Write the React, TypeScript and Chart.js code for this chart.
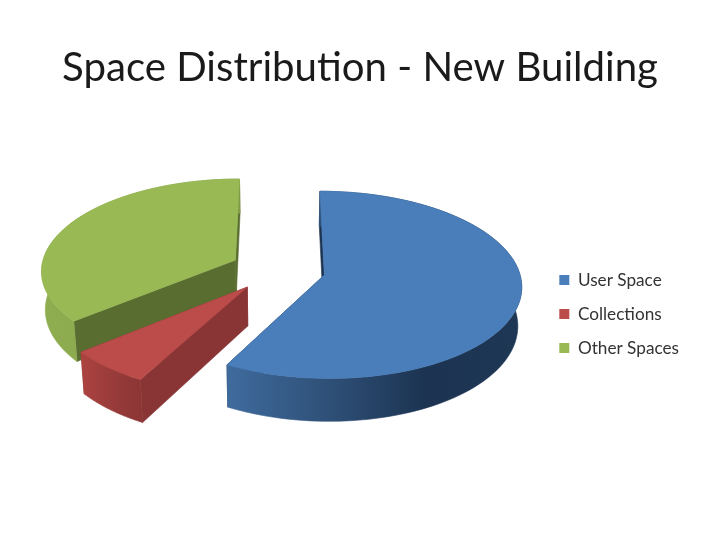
import React, { useEffect, useRef } from "react";
import { Chart, registerables } from "chart.js";

Chart.register(...registerables);

const categories = ["User Space", "Collections", "Other Spaces"];
const shares = [57.85, 6.15, 36];
const topColors = ["#4a7ebb", "#bb4c49", "#98b954"];
const cutColors = ["#1d3553", "#8a3535", "#5a6d31"];
const wallStops = [
  ["#3f6b9d", "#2f5179", "#1c3452", "#1e3755"],
  ["#ac4341", "#a03e3c", "#943a39", "#8c3635"],
  ["#8fae50", "#8aa84d", "#84a24a", "#7f9b47"],
];
const drawOrder = [2, 1, 0];

const CENTER_X = 278;
const CENTER_Y = 269.5;
const RADIUS = 194.5;
const TILT = 0.47;
const VIEW = 1860;
const DEPTH = 41;
const EXPLODE = 47.5;
const STEPS = 80;

type P = { x: number; y: number };

function project(X: number, Y: number, drop = 0): P {
  const w = 1 - Y / VIEW;
  const x = CENTER_X + X / w;
  const y = CENTER_Y + (TILT * Y) / w;
  if (!drop) return { x, y };
  const h = (drop / w) * 0.93;
  return { x: x + (CENTER_X - x) * 0.016, y: y + h };
}

function poly(ctx: CanvasRenderingContext2D, pts: P[], fill: string | CanvasGradient) {
  ctx.beginPath();
  pts.forEach((p, i) => (i ? ctx.lineTo(p.x, p.y) : ctx.moveTo(p.x, p.y)));
  ctx.closePath();
  ctx.fillStyle = fill;
  ctx.strokeStyle = fill;
  ctx.lineWidth = 0.6;
  ctx.fill();
  ctx.stroke();
}

const pie3d = {
  id: "pie3d",
  beforeDatasetsDraw(chart: any) {
    const ctx: CanvasRenderingContext2D = chart.ctx;
    const arcs = chart.getDatasetMeta(0).data;
    ctx.save();
    drawOrder.forEach((index) => {
      const arc = arcs[index];
      const scale = RADIUS / arc.outerRadius;
      const r = arc.outerRadius * scale;
      const a0 = arc.startAngle;
      const a1 = arc.endAngle;
      const mid = (a0 + a1) / 2;
      const ox = Math.cos(mid) * arc.options.offset;
      const oy = Math.sin(mid) * arc.options.offset;
      const rim: [number, number][] = [];
      for (let i = 0; i <= STEPS; i++) {
        const t = a0 + ((a1 - a0) * i) / STEPS;
        rim.push([ox + r * Math.cos(t), oy + r * Math.sin(t)]);
      }
      const topRim = rim.map(([x, y]) => project(x, y));
      const lowRim = rim.map(([x, y]) => project(x, y, DEPTH));
      const apex = project(ox, oy);
      const apexLow = project(ox, oy, DEPTH);

      // cut faces
      poly(ctx, [apex, topRim[0], lowRim[0], apexLow], cutColors[index]);
      poly(ctx, [apex, topRim[STEPS], lowRim[STEPS], apexLow], cutColors[index]);

      // rim wall
      const xs = topRim.map((p) => p.x);
      const minX = Math.min(...xs);
      const maxX = Math.max(...xs);
      const g = ctx.createLinearGradient(minX, 0, maxX, 0);
      wallStops[index].forEach((c, i) => g.addColorStop(i / 3, c));
      poly(ctx, [...topRim, ...lowRim.slice().reverse()], g);

      // top face
      poly(ctx, [apex, ...topRim], topColors[index]);
    });
    ctx.restore();
    return false;
  },
};

export default function App() {
  const ref = useRef<HTMLCanvasElement>(null);
  useEffect(() => {
    const chart = new Chart(ref.current as HTMLCanvasElement, {
      type: "pie",
      data: {
        labels: categories,
        datasets: [
          {
            data: shares,
            backgroundColor: topColors,
            borderWidth: 0,
            offset: EXPLODE,
          } as any,
        ],
      },
      options: {
        animation: false,
        responsive: false,
        devicePixelRatio: 1,
        layout: { padding: { left: 31, right: 31 } },
        plugins: {
          tooltip: { enabled: false },
          title: {
            display: true,
            text: "Space Distribution - New Building",
            color: "#1a1a1a",
            font: { family: "Lato", size: 40.2, weight: "normal", lineHeight: 1 },
            padding: { top: 48, bottom: 0 },
          },
          legend: {
            position: "right",
            fullSize: false,
            labels: {
              color: "#333333",
              font: { family: "Lato", size: 17.2 },
              boxWidth: 10,
              boxHeight: 10,
              padding: 16.8,
            },
          },
        },
      },
      plugins: [pie3d as any],
    });
    return () => chart.destroy();
  }, []);
  return (
    <div style={{ position: "absolute", left: 0, top: 0, width: 720, height: 540, background: "#ffffff" }}>
      <canvas ref={ref} width={720} height={540} style={{ display: "block" }} />
    </div>
  );
}
